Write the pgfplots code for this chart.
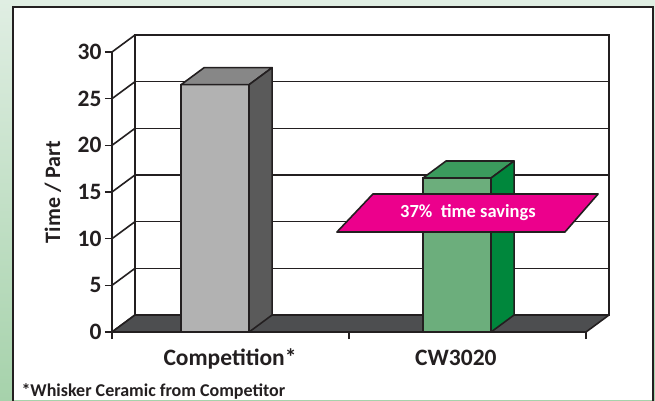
\documentclass[border=0pt]{standalone}
\usepackage{pgfplots}
\pgfplotsset{compat=1.18}
\usepackage{fontspec}
\setmainfont{Carlito}
\definecolor{ink}{HTML}{231F20}
\definecolor{floorgray}{HTML}{4D4E50}
\definecolor{compfront}{HTML}{B2B2B2}
\definecolor{comptop}{HTML}{878787}
\definecolor{compside}{HTML}{5A5A5A}
\definecolor{cwfront}{HTML}{6CAE7C}
\definecolor{cwtop}{HTML}{3B9A5D}
\definecolor{cwside}{HTML}{00873C}
\definecolor{savings}{HTML}{EC008C}
\definecolor{bgtop}{HTML}{E0EEE3}
\definecolor{bgbot}{HTML}{A6D2AB}
\begin{document}
\begin{tikzpicture}[x=1pt,y=1pt]
% page background and white panel
\shade[top color=bgtop, bottom color=bgbot] (0,0) rectangle (655,400);
\fill[white] (13,0) rectangle (653,393);
\draw[ink, line width=2pt] (13,-2) -- (13,393) -- (653,393) -- (653,-2);

\begin{axis}[
  at={(112pt,68pt)}, anchor=origin,
  scale only axis, width=474pt, height=280pt,
  xmin=0, xmax=2, ymin=0, ymax=30,
  clip=false,
  axis lines*=left,
  axis line style={ink, line width=1.8pt},
  tick align=outside,
  major tick length=7pt,
  tick style={ink, line width=1.6pt},
  xtick={0,1,2}, xticklabels={},
  extra x ticks={0.498,1.451},
  extra x tick labels={Competition*,CW3020},
  extra x tick style={major tick length=0pt},
  xticklabel style={font=\bfseries\fontsize{23.5}{28}\selectfont, text=ink, anchor=base, yshift=-33pt},
  ytick={0,5,...,30},
  /pgf/number format/assume math mode=true,
  yticklabel style={font=\bfseries\fontsize{23.5}{28}\selectfont, text=ink},
]
% back wall
\draw[ink, line width=1.8pt, fill=white] (axis cs:0.097,1.821) rectangle (axis cs:2.097,31.821);
% grid on back wall and left wall
\pgfplotsinvokeforeach{5,10,15,20,25}{
  \draw[ink, line width=1.6pt] (axis cs:0.097,#1+1.821) -- (axis cs:2.097,#1+1.821);
}
\pgfplotsinvokeforeach{0,5,10,15,20,25,30}{
  \draw[ink, line width=1.6pt] (axis cs:0,#1) -- (axis cs:0.097,#1+1.821);
}
% floor
\draw[ink, line width=1.6pt, fill=floorgray, line join=round]
  (axis cs:0,0) -- (axis cs:2,0) -- (axis cs:2.097,1.821) -- (axis cs:0.097,1.821) -- cycle;

% Competition*
\addplot[ybar, bar width=68pt, fill=compfront, draw=ink, line width=1.6pt]
  coordinates {(0.435,26.5)};
\addplot[fill=comptop, draw=ink, line width=1.6pt, line join=round]
  coordinates {(0.2915,26.5) (0.3885,28.321) (0.6755,28.321) (0.5785,26.5)} -- cycle;
\addplot[fill=compside, draw=ink, line width=1.6pt, line join=round]
  coordinates {(0.5785,0) (0.6755,1.821) (0.6755,28.321) (0.5785,26.5)} -- cycle;

% CW3020
\addplot[ybar, bar width=68pt, fill=cwfront, draw=ink, line width=1.6pt]
  coordinates {(1.456,16.5)};
\addplot[fill=cwtop, draw=ink, line width=1.6pt, line join=round]
  coordinates {(1.3125,16.5) (1.4095,18.321) (1.6965,18.321) (1.5995,16.5)} -- cycle;
\addplot[fill=cwside, draw=ink, line width=1.6pt, line join=round]
  coordinates {(1.5995,0) (1.6965,1.821) (1.6965,18.321) (1.5995,16.5)} -- cycle;

% savings banner
\draw[ink, line width=1.6pt, fill=savings, line join=round]
  (axis cs:1.101,14.79) -- (axis cs:2.051,14.79) -- (axis cs:1.911,10.71) -- (axis cs:0.949,10.71) -- cycle;
\node[text=white, font=\bfseries\fontsize{18.5}{22}\selectfont] at (axis cs:1.502,12.8) {37\%\ \ time savings};
\end{axis}

\node[rotate=90, text=ink, font=\bfseries\fontsize{22}{26}\selectfont] at (53,208) {Time / Part};
\node[anchor=base west, text=ink, font=\bfseries\fontsize{18}{22}\selectfont] at (18,4) {*Whisker Ceramic from Competitor};

\pgfresetboundingbox
\useasboundingbox (0,0) rectangle (655,400);
\end{tikzpicture}
\end{document}
